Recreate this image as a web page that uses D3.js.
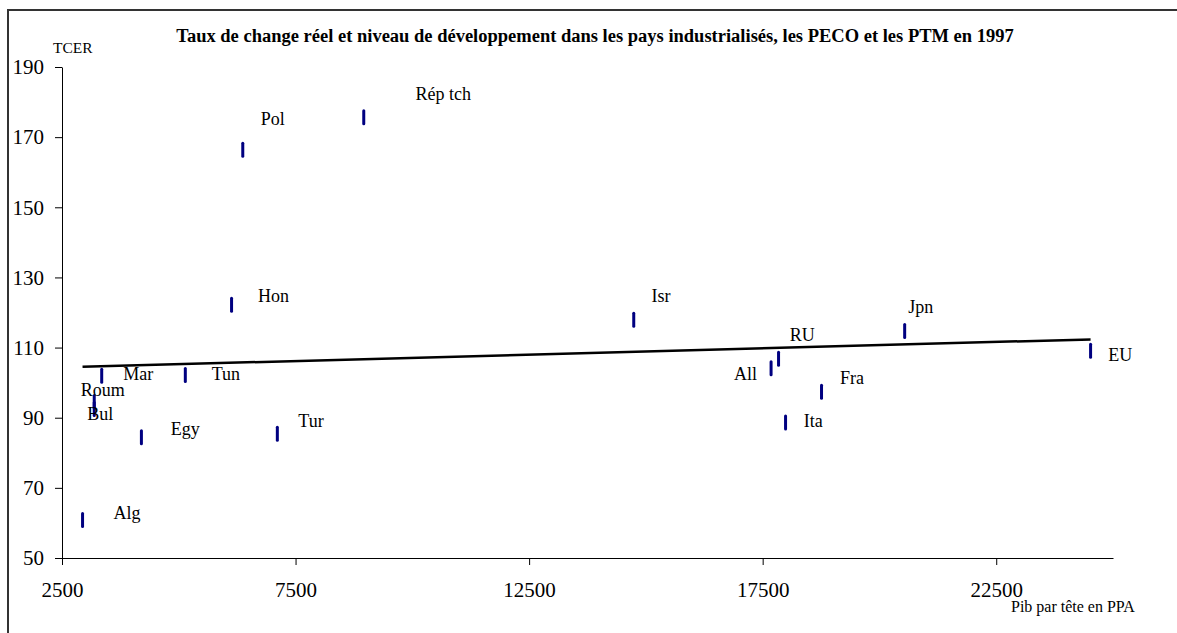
<!DOCTYPE html>
<html>
<head>
<meta charset="utf-8">
<script src="https://cdn.jsdelivr.net/npm/d3@7"></script>
<style>
  html, body { margin: 0; padding: 0; background: #fff; }
  svg { display: block; }
  text { font-family: "Liberation Serif", "Times New Roman", serif; fill: #000; }
</style>
</head>
<body>
<svg id="chart" width="1177" height="633"></svg>
<script>
// ---- Data ----
const countries = ["Alg","Roum","Bul","Mar","Egy","Tun","Hon","Pol","Tur","Rép tch","Isr","All","RU","Ita","Fra","Jpn","EU"];
const gdpPerCapita = [2940, 3190, 3190, 3350, 4200, 5140, 6130, 6370, 7110, 8960, 14740, 17680, 17840, 17990, 18760, 20540, 24520];
const tcer = [60.8, 94.5, 92.5, 102.0, 84.4, 102.2, 122.2, 166.4, 85.4, 175.7, 117.9, 104.1, 106.8, 88.6, 97.4, 114.7, 109.1];
const xTicks = [2500, 7500, 12500, 17500, 22500];
const yTicks = [50, 70, 90, 110, 130, 150, 170, 190];
const title = "Taux de change réel et niveau de développement dans les pays industrialisés, les PECO et les PTM en 1997";
const yTitle = "TCER";
const xTitle = "Pib par tête en PPA";

// ---- Layout (label offsets in px relative to marker centre) ----
const labelOffsets = {
  "Alg": [31, -1], "Roum": [-13.6, -5.5], "Bul": [-7, 11], "Mar": [21.6, 4],
  "Egy": [29.4, -2.5], "Tun": [26.4, 5], "Hon": [26.4, -2.5], "Pol": [18, -24.7],
  "Tur": [21, -7], "Rép tch": [51.7, -17], "Isr": [17.7, -18], "All": [-37, 11.7],
  "RU": [11.3, -18], "Ita": [18.3, 4], "Fra": [18.6, -7.5], "Jpn": [3.6, -18.5], "EU": [17.6, 10.2]
};

const svg = d3.select("#chart");
const plotLeft = 62, plotRight = 1113, plotTop = 67, plotBottom = 558;

const x = d3.scaleLinear().domain([2500, 25000]).range([plotLeft, plotRight]);
const y = d3.scaleLinear().domain([50, 190]).range([plotBottom, plotTop]);

// outer frame
svg.append("rect").attr("x", 8).attr("y", 10).attr("width", 1200).attr("height", 700)
  .attr("fill", "none").attr("stroke", "#333").attr("stroke-width", 2);

// title
svg.append("text").attr("x", 595).attr("y", 42).attr("text-anchor", "middle")
  .style("font-size", "18.5px").style("font-weight", "bold").text(title);

// axes
const xAxis = d3.axisBottom(x).tickValues(xTicks).tickSize(7).tickSizeOuter(0).tickFormat(d3.format("d"));
const gx = svg.append("g").attr("transform", `translate(0,${plotBottom})`).call(xAxis);
gx.selectAll("text").attr("y", 24).attr("dy", "0.71em").style("font-size", "21px")
  .style("font-family", '"Liberation Serif", "Times New Roman", serif');

const yAxis = d3.axisLeft(y).tickValues(yTicks).tickSize(7).tickSizeOuter(0).tickPadding(11).tickFormat(d3.format("d"));
const gy = svg.append("g").attr("transform", `translate(${plotLeft},0)`).call(yAxis);
gy.selectAll("text").style("font-size", "21px")
  .style("font-family", '"Liberation Serif", "Times New Roman", serif');

[gx, gy].forEach(g => {
  g.select(".domain").attr("stroke", "#000").attr("stroke-width", 1);
  g.selectAll(".tick line").attr("stroke", "#000").attr("stroke-width", 1);
  g.selectAll("text").attr("fill", "#000");
});

// axis titles
svg.append("text").attr("x", 53).attr("y", 53).style("font-size", "15.5px").text(yTitle);
svg.append("text").attr("x", 1011).attr("y", 612).style("font-size", "16px").text(xTitle);

// linear trend (least squares from the data)
const pts = countries.map((c, i) => ({ c, gx: gdpPerCapita[i], t: tcer[i] }));
const mx = d3.mean(pts, p => p.gx), my = d3.mean(pts, p => p.t);
const slope = d3.sum(pts, p => (p.gx - mx) * (p.t - my)) / d3.sum(pts, p => (p.gx - mx) ** 2);
const intercept = my - slope * mx;
const [x0, x1] = d3.extent(pts, p => p.gx);
svg.append("path")
  .datum([x0, x1].map(v => [v, intercept + slope * v]))
  .attr("d", d3.line().x(d => x(d[0])).y(d => y(d[1])))
  .attr("stroke", "#000").attr("stroke-width", 2.5).attr("fill", "none");

// markers (vertical dashes)
svg.append("g").selectAll("line").data(pts).join("line")
  .attr("x1", d => x(d.gx)).attr("x2", d => x(d.gx))
  .attr("y1", d => y(d.t) - 6.5).attr("y2", d => y(d.t) + 6.5)
  .attr("stroke", "#000080").attr("stroke-width", 3).attr("stroke-linecap", "round");

// labels
svg.append("g").selectAll("text").data(pts).join("text")
  .attr("x", d => x(d.gx) + labelOffsets[d.c][0])
  .attr("y", d => y(d.t) + labelOffsets[d.c][1])
  .style("font-size", "18px")
  .text(d => d.c);
</script>
</body>
</html>
